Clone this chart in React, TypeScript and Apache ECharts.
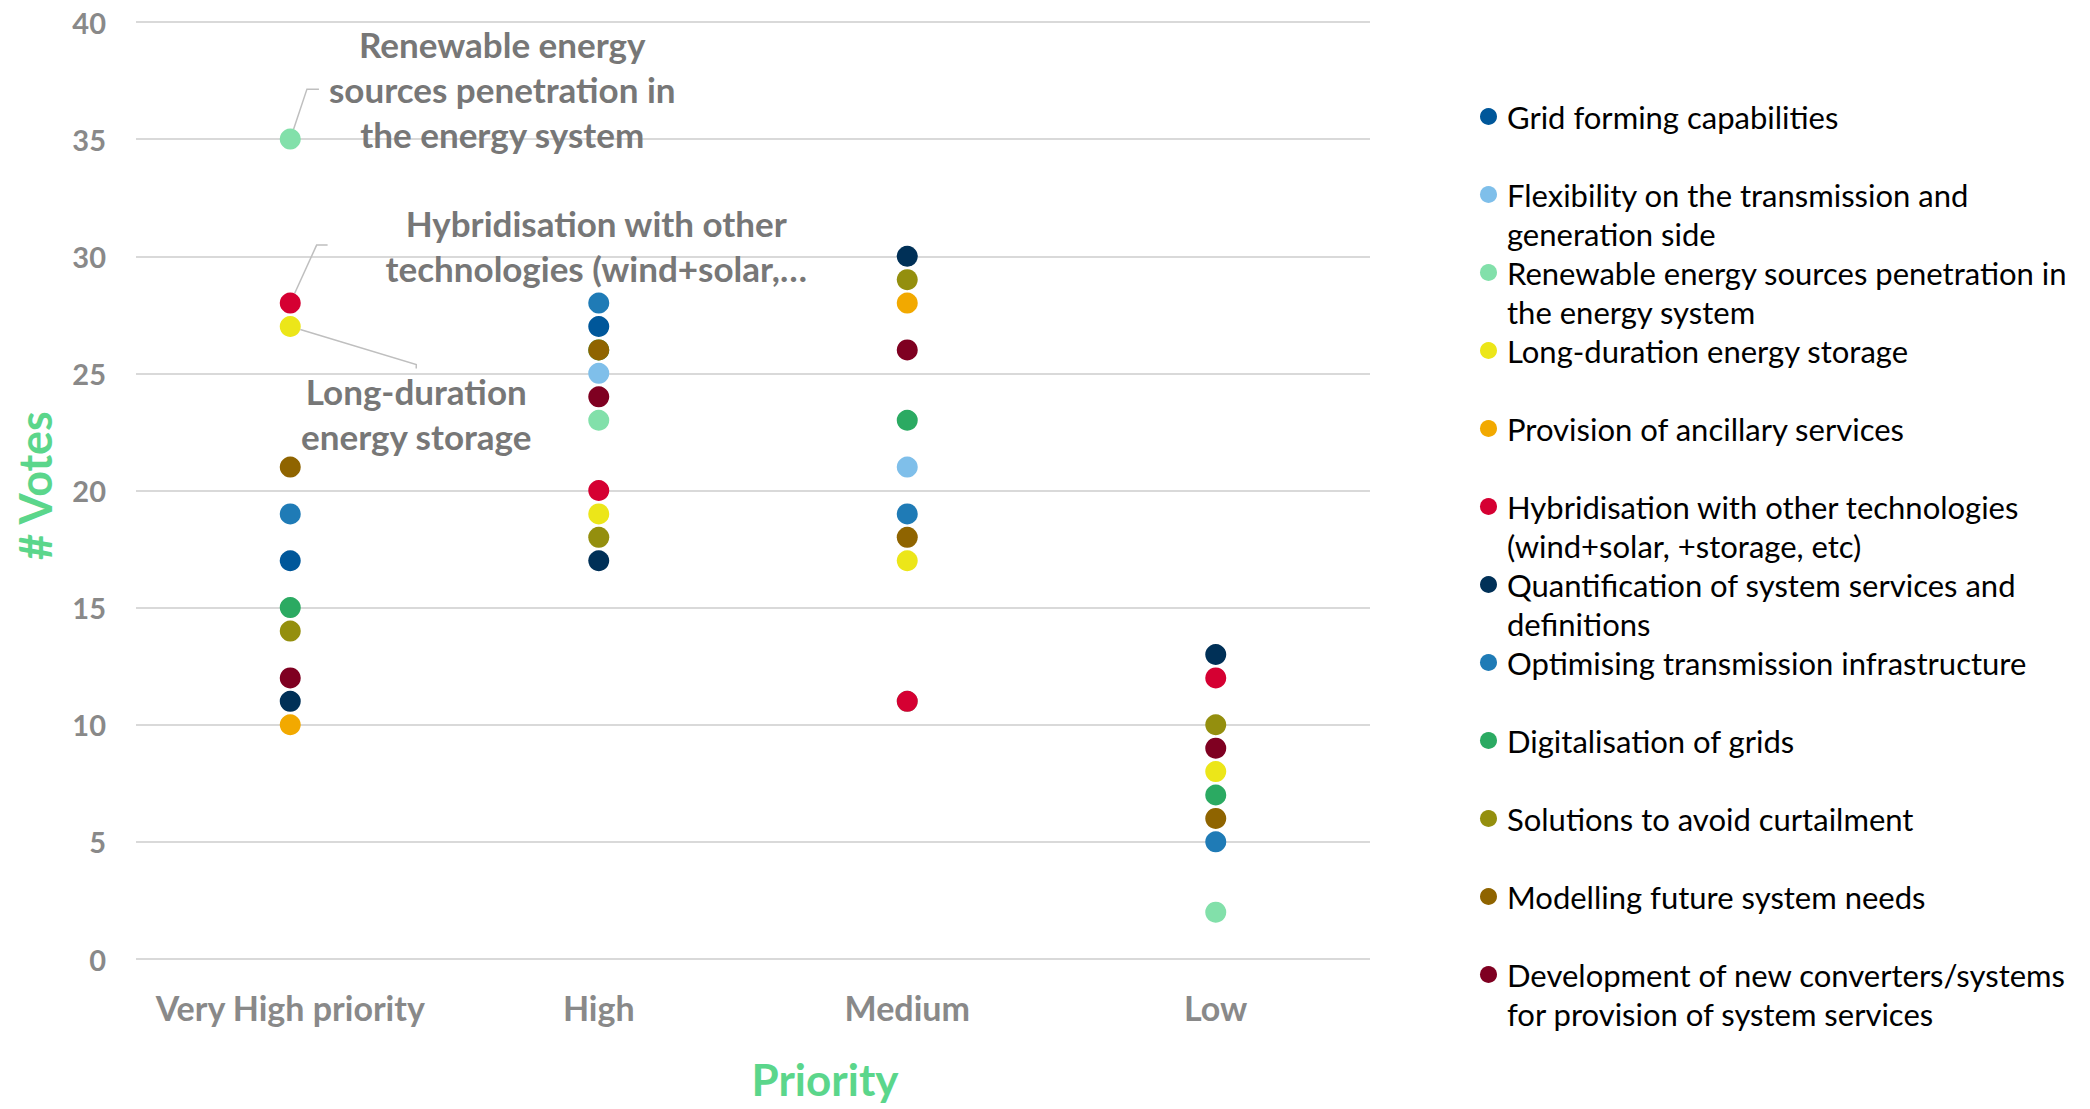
import React, { useEffect, useRef } from "react";
import * as echarts from "echarts";

const categories = ["Very High priority", "High", "Medium", "Low"];
const yTicks = { min: 0, max: 40, interval: 5 };

const topics = [
  "Grid forming capabilities",
  "Flexibility on the transmission and generation side",
  "Renewable energy sources penetration in the energy system",
  "Long-duration energy storage",
  "Provision of ancillary services",
  "Hybridisation with other technologies (wind+solar, +storage, etc)",
  "Quantification of system services and definitions",
  "Optimising transmission infrastructure",
  "Digitalisation of grids",
  "Solutions to avoid curtailment",
  "Modelling future system needs",
  "Development of new converters/systems for provision of system services",
];

const legendLines: string[][] = [
  ["Grid forming capabilities"],
  ["Flexibility on the transmission and", "generation side"],
  ["Renewable energy sources penetration in", "the energy system"],
  ["Long-duration energy storage"],
  ["Provision of ancillary services"],
  ["Hybridisation with other technologies", "(wind+solar, +storage, etc)"],
  ["Quantification of system services and", "definitions"],
  ["Optimising transmission infrastructure"],
  ["Digitalisation of grids"],
  ["Solutions to avoid curtailment"],
  ["Modelling future system needs"],
  ["Development of new converters/systems", "for provision of system services"],
];

const colors = [
  "#00579A",
  "#7FBFEA",
  "#82E0AA",
  "#ECE619",
  "#F2A900",
  "#D50032",
  "#003057",
  "#1F7BB6",
  "#2BAA62",
  "#948F0E",
  "#8F6400",
  "#7F0021",
];

// votes per category: Very High, High, Medium, Low (null = not visible)
const gridForming = [17, 27, null, null];
const flexibility = [null, 25, 21, null];
const renewable = [35, 23, 11, 2];
const longDuration = [27, 19, 17, 8];
const provision = [10, null, 28, null];
const hybridisation = [28, 20, 11, 12];
const quantification = [11, 17, 30, 13];
const optimising = [19, 28, 19, 5];
const digitalisation = [15, 26, 23, 7];
const solutions = [14, 18, 29, 10];
const modelling = [21, 26, 18, 6];
const development = [12, 24, 26, 9];

const seriesValues: (number | null)[][] = [
  gridForming,
  flexibility,
  renewable,
  longDuration,
  provision,
  hybridisation,
  quantification,
  optimising,
  digitalisation,
  solutions,
  modelling,
  development,
];

// annotations: series index, category index, text, label offset, box padding, leader length
const annotations = [
  {
    series: 2,
    cat: 0,
    text: "Renewable energy\nsources penetration in\nthe energy system",
    offset: [207, -50],
    padding: [0, 0, 0, 10],
    vAlign: "middle",
    len: 12,
  },
  {
    series: 5,
    cat: 0,
    text: "Hybridisation with other\ntechnologies (wind+solar,…",
    offset: [277, -58],
    padding: [0, 0, 0, 58],
    vAlign: "middle",
    len: 11,
  },
  {
    series: 3,
    cat: 0,
    text: "Long-duration\nenergy storage",
    offset: [126, 42],
    padding: [0, 0, 150, 0],
    vAlign: "top",
    len: 4,
  },
];

const FONT = "Lato";
const GRAY = "#898989";

export default function App() {
  const ref = useRef<HTMLDivElement>(null);

  useEffect(() => {
    if (!ref.current) return;
    const chart = echarts.init(ref.current, undefined, { renderer: "svg" });

    const series = topics.map((name, si) => {
      const data: any[] = [];
      seriesValues[si].forEach((v, ci) => {
        if (v == null) return;
        const ann = annotations.find((a) => a.series === si && a.cat === ci);
        if (ann) {
          data.push({
            value: [categories[ci], v],
            label: {
              show: true,
              position: "inside",
              offset: ann.offset,
              formatter: ann.text,
              color: "#777777",
              fontFamily: FONT,
              fontWeight: "bold",
              fontSize: 35,
              lineHeight: 45,
              align: "center",
              verticalAlign: ann.vAlign,
              padding: ann.padding,
              backgroundColor: "rgba(255,255,255,0)",
            },
            labelLine: {
              show: true,
              length2: ann.len,
              lineStyle: { color: "#BFBFBF", width: 1.5 },
            },
          });
        } else {
          data.push([categories[ci], v]);
        }
      });
      return {
        name,
        type: "scatter",
        symbol: "circle",
        symbolSize: 21,
        itemStyle: { color: colors[si], opacity: 1 },
        label: { show: false },
        data,
      };
    });

    const legendMap: Record<string, string> = {};
    topics.forEach((t, i) => {
      const lines = legendLines[i];
      legendMap[t] = "\n" + lines.join("\n") + (lines.length === 1 ? "\n " : "");
    });

    chart.setOption({
      animation: false,
      backgroundColor: "#ffffff",
      textStyle: { fontFamily: FONT },
      grid: {
        left: 136,
        right: 720,
        top: 22,
        bottom: 150,
        containLabel: false,
        outerBoundsMode: "none",
      },
      xAxis: {
        type: "category",
        data: categories,
        boundaryGap: true,
        axisLine: { show: false },
        axisTick: { show: false },
        splitLine: { show: false },
        axisLabel: {
          interval: 0,
          margin: 31,
          color: GRAY,
          fontFamily: FONT,
          fontWeight: "bold",
          fontSize: 34,
        },
        name: "Priority",
        nameLocation: "middle",
        nameGap: 98,
        nameTextStyle: {
          color: "#5BD68B",
          fontFamily: FONT,
          fontWeight: "bold",
          fontSize: 44,
          padding: [0, 0, 0, 144],
        },
      },
      yAxis: {
        type: "value",
        min: yTicks.min,
        max: yTicks.max,
        interval: yTicks.interval,
        axisLine: { show: false },
        axisTick: { show: false },
        splitLine: { show: true, lineStyle: { color: "#D9D9D9", width: 2 } },
        axisLabel: {
          margin: 30,
          color: GRAY,
          fontFamily: FONT,
          fontWeight: "bold",
          fontSize: 29,
        },
        name: "# Votes",
        nameLocation: "middle",
        nameGap: 79,
        nameRotate: 90,
        nameTextStyle: {
          color: "#5BD68B",
          fontFamily: FONT,
          fontWeight: "bold",
          fontSize: 45,
          padding: [0, 0, 0, 10],
        },
      },
      legend: {
        orient: "vertical",
        left: 1480,
        top: 58,
        padding: 0,
        itemGap: -39,
        itemWidth: 27,
        itemHeight: 17,
        icon: "circle",
        selectedMode: false,
        data: topics,
        formatter: (name: string) => legendMap[name] || name,
        textStyle: {
          fontFamily: FONT,
          fontSize: 31,
          color: "#000000",
          lineHeight: 39,
        },
      },
      series,
    });

    return () => chart.dispose();
  }, []);

  return (
    <div
      ref={ref}
      style={{ position: "fixed", left: 0, top: 0, width: 2090, height: 1109 }}
    />
  );
}
